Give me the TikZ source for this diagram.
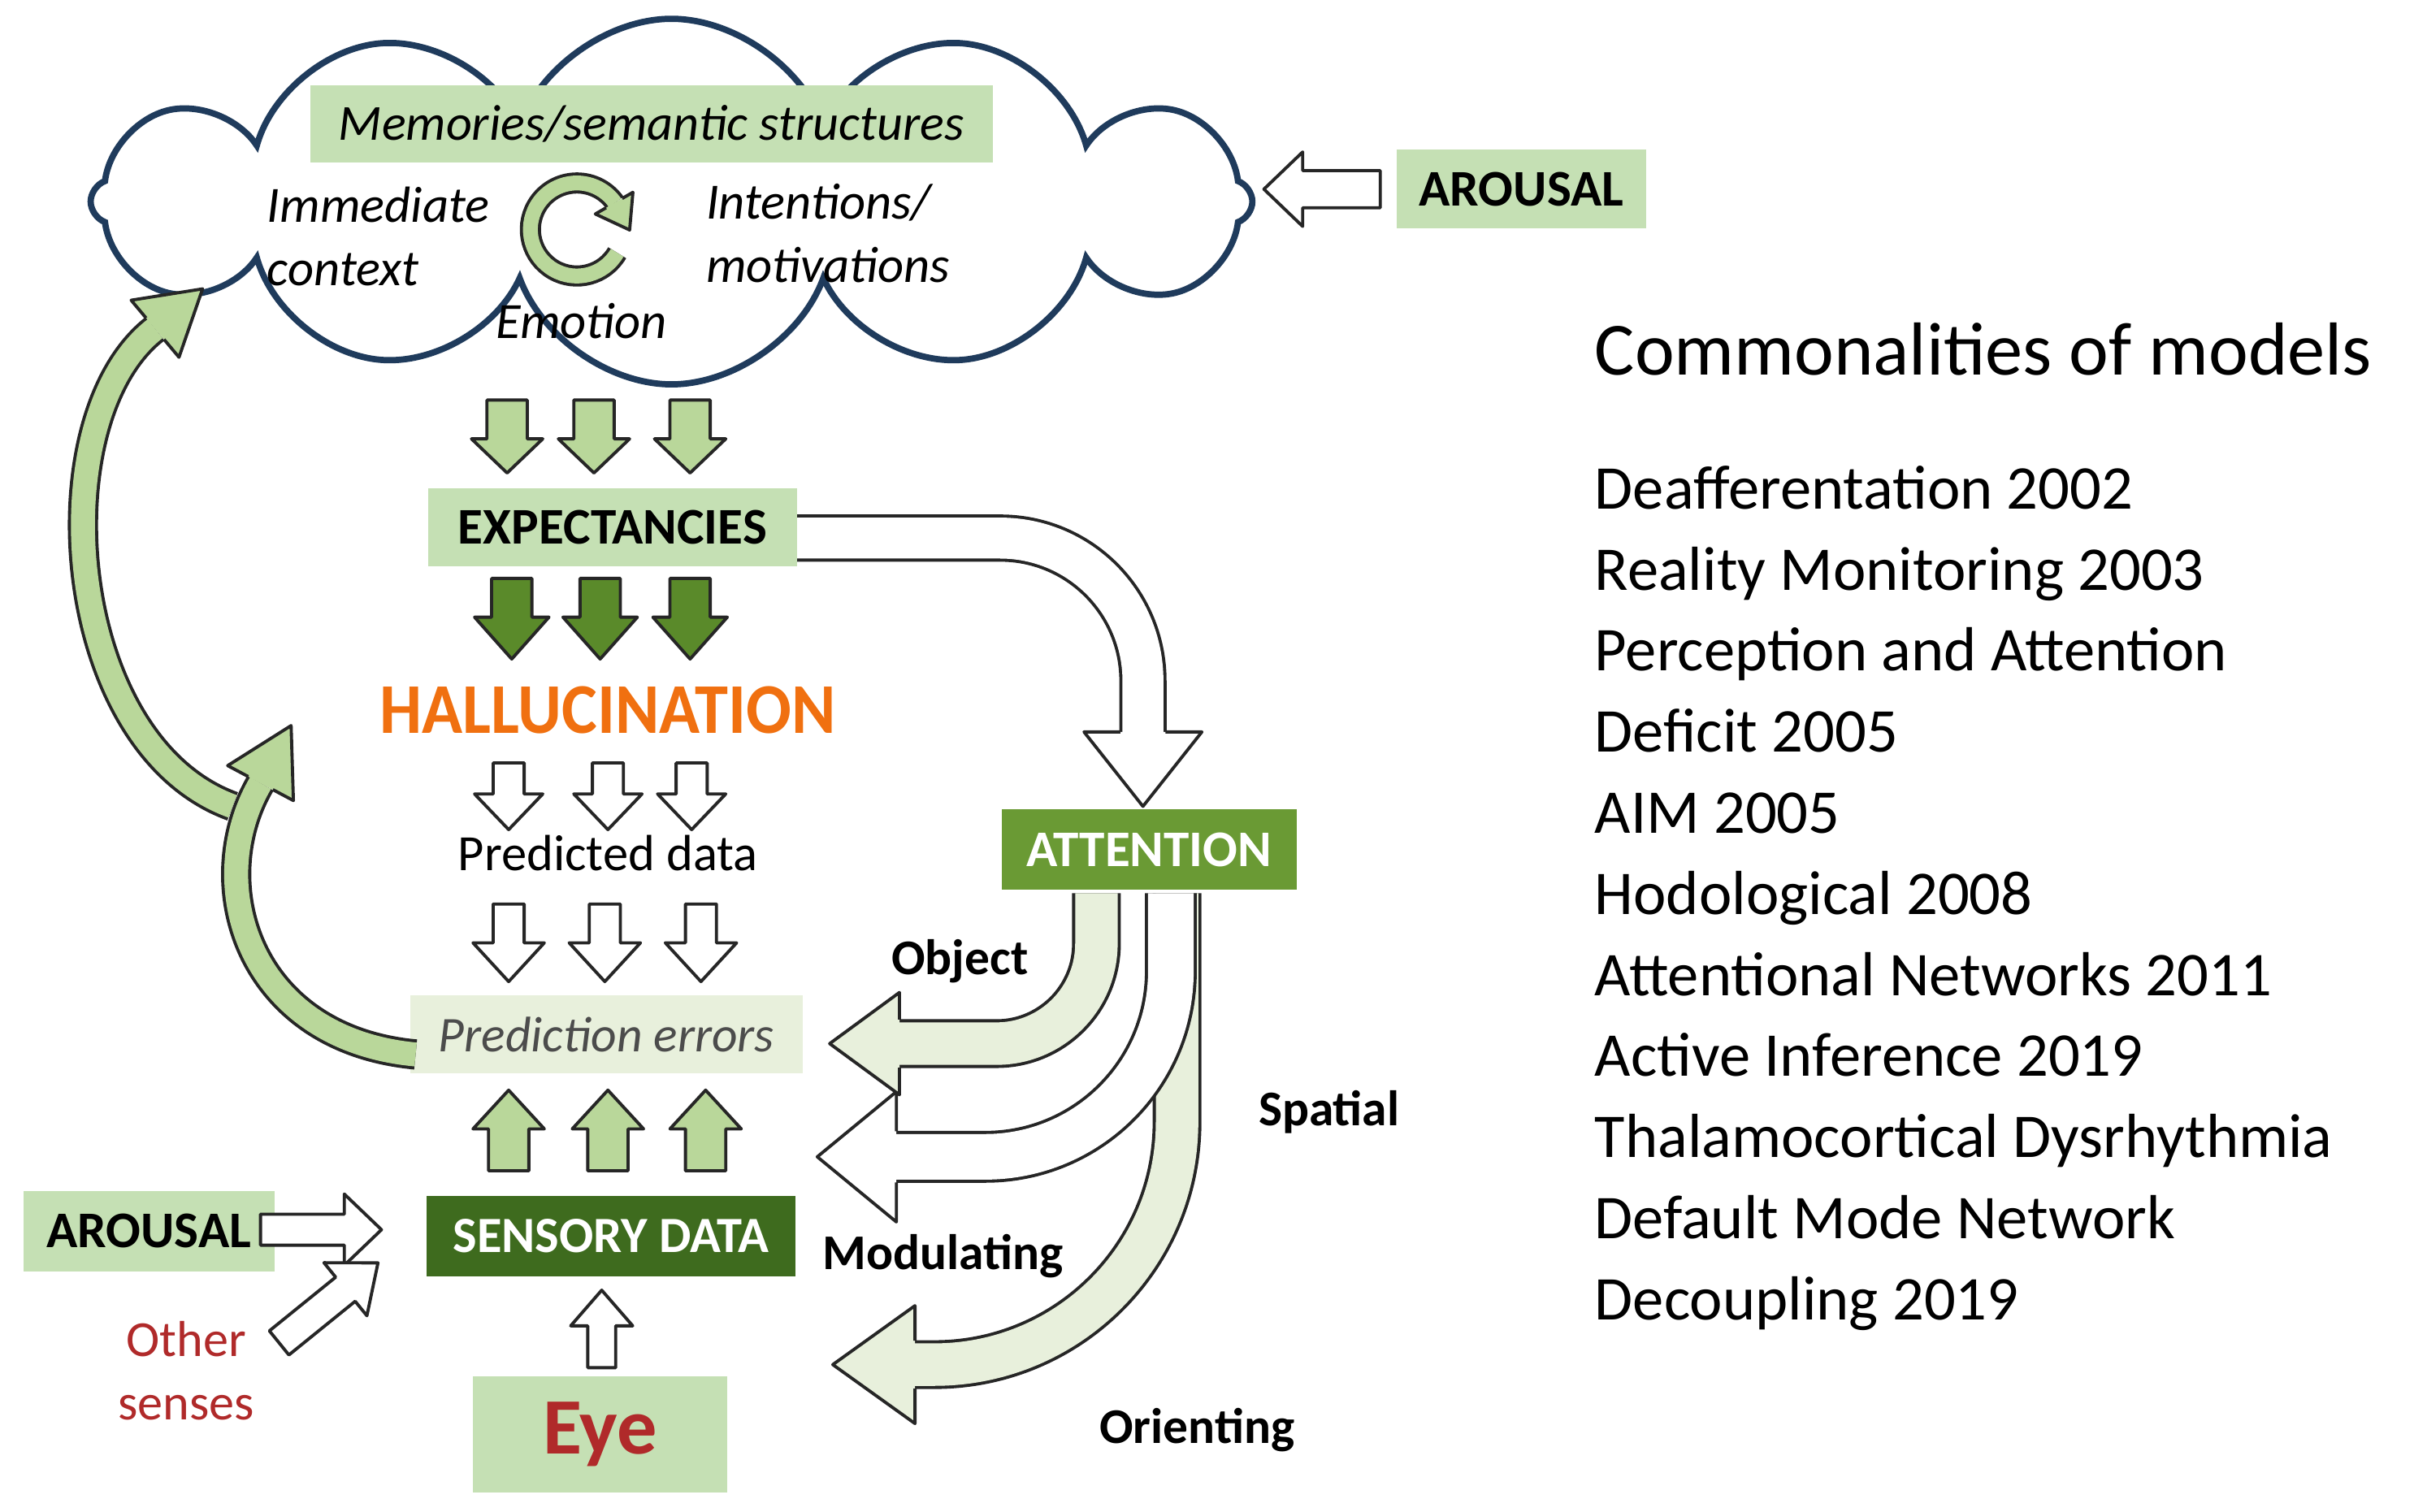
\documentclass[tikz,border=0pt]{standalone}
\usepackage{fontspec}
\setmainfont{Carlito}
\usetikzlibrary{shapes.symbols}
\definecolor{boxg}{HTML}{C5E0B4}
\definecolor{arrg}{HTML}{B9D79A}
\definecolor{darkg}{HTML}{5A8A2A}
\definecolor{attg}{HTML}{6A9A34}
\definecolor{sensg}{HTML}{3E6B1E}
\definecolor{paleg}{HTML}{E8F0DC}
\definecolor{cloudc}{HTML}{1F3B5C}
\definecolor{eyered}{HTML}{B02A2A}
\definecolor{halor}{HTML}{F07010}
\newcommand\fs[1]{\fontsize{#1}{1.2\dimexpr#1pt\relax}\selectfont}
\tikzset{
 ol/.style={draw=black!85,line width=1.1pt,line join=round},
 lbox/.style={fill=boxg,inner sep=0pt},
 bl/.style={font=\fs{17.5}\bfseries}
}
% vertical block arrow: x, tail y, base y, tip y, shaft half, head half, fill
\newcommand\vArr[7]{\draw[ol,fill=#7] ({#1-#5},#2)--({#1+#5},#2)--({#1+#5},#3)--({#1+#6},#3)--(#1,#4)--({#1-#6},#3)--({#1-#5},#3)--cycle;}
\newcommand\hArr[7]{\draw[ol,fill=#7] (#2,{#1-#5})--(#2,{#1+#5})--(#3,{#1+#5})--(#3,{#1+#6})--(#4,#1)--(#3,{#1-#6})--(#3,{#1-#5})--cycle;}
% heads only: pos, base, tip, shaft half, head half, fill
\newcommand\vHead[6]{\fill[#6] ({#1-#5},#2)--(#1,#3)--({#1+#5},#2)--cycle;
 \draw[ol] ({#1-#4},#2)--({#1-#5},#2)--(#1,#3)--({#1+#5},#2)--({#1+#4},#2);}
\newcommand\hHead[6]{\fill[#6] (#2,{#1-#5})--(#3,#1)--(#2,{#1+#5})--cycle;
 \draw[ol] (#2,{#1-#4})--(#2,{#1-#5})--(#3,#1)--(#2,{#1+#5})--(#2,{#1+#4});}
% bent shaft: path, fill, radius, width(px)
\newcommand\bent[4]{\draw[black!85,line width={#4*0.541pt+1.4pt},rounded corners=#3] #1;
 \draw[#2,line width={#4*0.541pt-0.8pt},rounded corners=#3] #1;}
\begin{document}
\begin{tikzpicture}[x=0.01909cm,y=-0.01909cm]
\useasboundingbox (0,0) rectangle (1565,975);
% cloud
\node[cloud,cloud puffs=12,cloud puff arc=140,cloud ignores aspect,draw=cloudc,line width=2.2pt,fill=white,
 minimum width=14.3cm,minimum height=4.5cm] (cloud) at (433,130) {};
\node[lbox,minimum width=8.4cm,minimum height=0.955cm] (mem) at (420,80)
 {\fs{17.7}\itshape Memories/semantic structures};
\node[align=left,anchor=north west,inner sep=0pt,font=\fs{17.8}\itshape] (imm) at (172,120) {Immediate\\[1pt]context};
\node[align=left,anchor=north west,inner sep=0pt,font=\fs{17.8}\itshape] (int) at (455,118) {Intentions/\\[1pt]motivations};
\node[inner sep=0pt,font=\fs{17.8}\itshape] (emo) at (375,207) {Emotion};
% circular arrow
\draw[black!85,line width=7.4pt] (372,148) ++(30:30) arc (30:325:30);
\draw[arrg,line width=5.2pt] (372,148) ++(30:30) arc (30:325:30);
\begin{scope}[shift={(396,131)},rotate=-60]
 \hHead{0}{0}{20}{6}{14}{arrg}
\end{scope}
% arrows cloud -> expectancies
\vArr{327}{258}{283}{305}{13}{23}{arrg}
\vArr{383}{258}{283}{305}{13}{23}{arrg}
\vArr{445}{258}{283}{305}{13}{23}{arrg}
\node[lbox,minimum width=4.54cm,minimum height=0.955cm,font=\fs{18}\bfseries] (exp) at (395,340) {EXPECTANCIES};
\vArr{330}{373}{398}{425}{13}{24}{darkg}
\vArr{387}{373}{398}{425}{13}{24}{darkg}
\vArr{445}{373}{398}{425}{13}{24}{darkg}
\node[inner sep=0pt,text=halor,font=\fs{25}\bfseries,xscale=0.94] (hal) at (392,458) {HALLUCINATION};
\vArr{328}{492}{512}{535}{10}{22}{white}
\vArr{392}{492}{512}{535}{10}{22}{white}
\vArr{446}{492}{512}{535}{10}{22}{white}
\node[inner sep=0pt,font=\fs{17.8}] (pred) at (392,550) {Predicted data};
\vArr{328}{583}{608}{633}{10}{23}{white}
\vArr{390}{583}{608}{633}{10}{23}{white}
\vArr{452}{583}{608}{633}{10}{23}{white}
\node[fill=paleg,inner sep=0pt,minimum width=4.83cm,minimum height=0.955cm,text=black!70,font=\fs{17.5}\itshape] (perr) at (391,667) {Prediction errors};
\vArr{328}{755}{728}{703}{13}{23}{arrg}
\vArr{392}{755}{728}{703}{13}{23}{arrg}
\vArr{455}{755}{728}{703}{13}{23}{arrg}
\node[fill=sensg,inner sep=0pt,minimum width=4.54cm,minimum height=0.99cm,text=white,font=\fs{17.8}\bfseries] (sens) at (394,797) {SENSORY DATA};
\vArr{388}{882}{855}{832}{9}{20}{white}
\node[lbox,minimum width=3.13cm,minimum height=1.43cm,text=eyered,font=\fs{28}\bfseries] (eye) at (387,925) {Eye};
% arousal left
\node[lbox,minimum width=3.09cm,minimum height=0.99cm,font=\fs{18}\bfseries] (arl) at (96,794) {AROUSAL};
\hArr{793}{168}{222}{246}{10}{23}{white}
\node[align=center,inner sep=0pt,text=eyered,font=\fs{17.7}] (oth) at (120,884) {Other\\[1pt]senses};
\begin{scope}[shift={(180,866)},rotate=39]
 \hArr{0}{0}{55}{82}{10}{22}{white}
\end{scope}
% arousal right
\node[lbox,minimum width=3.07cm,minimum height=0.97cm,font=\fs{18}\bfseries] (arr) at (981,122) {AROUSAL};
\hArr{122}{890}{840}{815}{12}{24}{white}
% attention
\node[fill=attg,inner sep=0pt,minimum width=3.63cm,minimum height=0.99cm,text=white,font=\fs{18}\bfseries] (att) at (741,548) {ATTENTION};
\bent{(514,347)--(737,347)--(737,472)}{white}{50}{28}
\vHead{737}{472}{520}{14.5}{38}{white}
% orienting
\bent{(759,576)--(759,880)--(590,880)}{paleg}{85}{29}
\hHead{880}{590}{537}{15.5}{38}{paleg}
% modulating
\bent{(755,576)--(755,746)--(578,746)}{white}{65}{31}
\hHead{746}{578}{527}{16.5}{42}{white}
% object
\bent{(707,576)--(707,673)--(580,673)}{paleg}{35}{29}
\hHead{673}{580}{535}{15.5}{33}{paleg}
\node[bl,inner sep=0pt] (obj) at (619,620) {Object};
\node[bl,inner sep=0pt] (spa) at (857,717) {Spatial};
\node[bl,inner sep=0pt] (mod) at (608,810) {Modulating};
\node[bl,inner sep=0pt] (ori) at (772,922) {Orienting};
% loop arrows
\bent{(268,680) .. controls (160,670) and (130,570) .. (168,505)}{arrg}{0}{17}
\begin{scope}[shift={(168,505)},rotate=62]
 \hHead{0}{0}{42}{9}{24}{arrg}
\end{scope}
\bent{(150,520) .. controls (40,480) and (25,270) .. (100,212)}{arrg}{0}{17}
\begin{scope}[shift={(100,212)},rotate=40]
 \hHead{0}{0}{40}{9}{24}{arrg}
\end{scope}
% commonalities
\node[anchor=west,inner sep=0pt,font=\fs{26.3}] (title) at (1028,225) {Commonalities of models};
\node[anchor=north west,align=left,inner sep=0pt,font=\fontsize{21.8}{28.4}\selectfont] (list) at (1028,300) {Deafferentation 2002\\Reality Monitoring 2003\\Perception and Attention\\Deficit 2005\\AIM 2005\\Hodological 2008\\Attentional Networks 2011\\Active Inference 2019\\Thalamocortical Dysrhythmia\\Default Mode Network\\Decoupling 2019};
\end{tikzpicture}
\end{document}
